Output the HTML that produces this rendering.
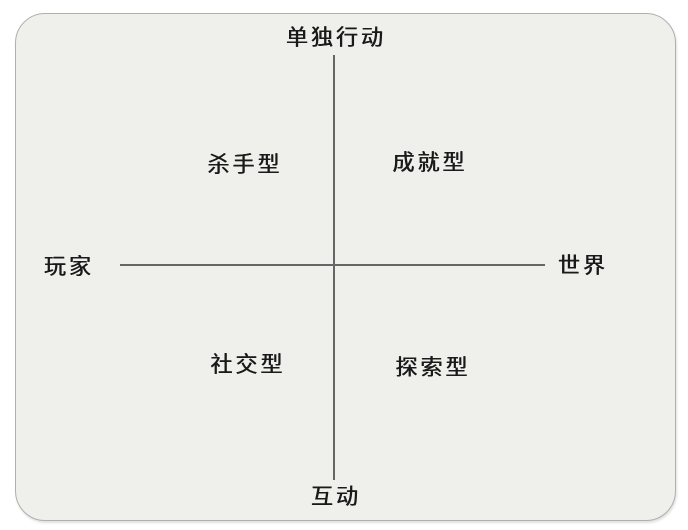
<!DOCTYPE html>
<html><head><meta charset="utf-8"><style>
body{margin:0;width:688px;height:530px;background:#fff;position:relative;overflow:hidden;font-family:"Liberation Sans","Noto Sans CJK SC",sans-serif;}
.box{position:absolute;left:15px;top:13px;width:661px;height:508px;border:1.5px solid #b0b0ac;border-radius:30px;background:#efefec;box-sizing:border-box;box-shadow:1px 2px 2px rgba(0,0,0,0.12);}
.t{position:absolute;font-size:22px;color:#1a1a1a;letter-spacing:3px;white-space:nowrap;transform:translate(-50%,-50%);line-height:1;text-shadow:0.4px 0 0 #1a1a1a,-0.2px 0 0 #1a1a1a;}
.v{position:absolute;left:333px;top:55px;width:1.5px;height:425px;background:#666;}
.h{position:absolute;left:120px;top:264px;width:425px;height:1.5px;background:#666;}
</style></head><body>
<div class="box"></div>
<div class="v"></div><div class="h"></div>
<div class="t" style="left:336px;top:38px">单独行动</div>
<div class="t" style="left:336px;top:497px">互动</div>
<div class="t" style="left:69px;top:267px">玩家</div>
<div class="t" style="left:583px;top:266px">世界</div>
<div class="t" style="left:245px;top:165px">杀手型</div>
<div class="t" style="left:430px;top:163px">成就型</div>
<div class="t" style="left:248px;top:365px">社交型</div>
<div class="t" style="left:433px;top:368px">探索型</div>
</body></html>
